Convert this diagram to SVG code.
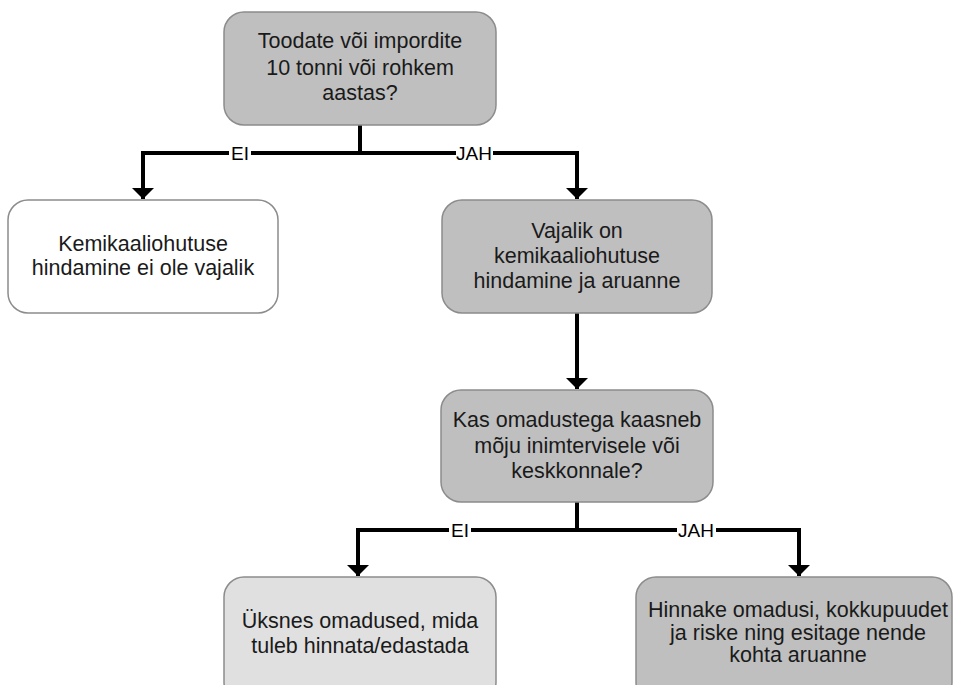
<svg xmlns="http://www.w3.org/2000/svg" width="954" height="685" viewBox="0 0 954 685">
  <defs>
    <marker id="arrow" viewBox="0 0 10 20" refX="10" refY="10" markerWidth="2.75" markerHeight="5.5" markerUnits="strokeWidth" orient="auto">
      <path d="M0,0 L10,10 L0,20 Z" fill="#000"/>
    </marker>
  </defs>
  <style>
    .box { stroke: #8c8c8c; stroke-width: 1.5; }
    .dark { fill: #bfbfbf; }
    .white { fill: #ffffff; }
    .light { fill: #e0e0e0; }
    .txt { font-family: "Liberation Sans", Arial, sans-serif; font-size: 21.5px; fill: #1a1a1a; text-anchor: middle; }
    .lbl { font-family: "Liberation Sans", Arial, sans-serif; font-size: 19px; fill: #000; text-anchor: middle; }
    .edge { fill: none; stroke: #000; stroke-width: 4; }
  </style>
  <rect width="954" height="685" fill="#ffffff"/>

  <g id="connectors">
    <path class="edge" d="M360,125 V153"/>
    <path class="edge" d="M360,153 H143 V199" marker-end="url(#arrow)"/>
    <path class="edge" d="M360,153 H577 V199" marker-end="url(#arrow)"/>
    <path class="edge" d="M577,313 V389" marker-end="url(#arrow)"/>
    <path class="edge" d="M577,502 V530"/>
    <path class="edge" d="M577,530 H358 V576" marker-end="url(#arrow)"/>
    <path class="edge" d="M577,530 H799 V576" marker-end="url(#arrow)"/>
    <rect x="229" y="143" width="22" height="20" fill="#fff"/>
    <text class="lbl" x="240" y="160">EI</text>
    <rect x="456" y="143" width="37" height="20" fill="#fff"/>
    <text class="lbl" x="474" y="160">JAH</text>
    <rect x="449" y="520" width="22" height="20" fill="#fff"/>
    <text class="lbl" x="460" y="537">EI</text>
    <rect x="677" y="520" width="39" height="20" fill="#fff"/>
    <text class="lbl" x="696" y="537">JAH</text>
  </g>

  <g id="q1">
    <rect class="box dark" x="224" y="12" width="272" height="113" rx="20"/>
    <text class="txt" x="360" y="48">Toodate või impordite</text>
    <text class="txt" x="360" y="75">10 tonni või rohkem</text>
    <text class="txt" x="360" y="100">aastas?</text>
  </g>

  <g id="no-assessment">
    <rect class="box white" x="8" y="200" width="270" height="113" rx="20"/>
    <text class="txt" x="143" y="251">Kemikaaliohutuse</text>
    <text class="txt" x="143" y="275">hindamine ei ole vajalik</text>
  </g>

  <g id="assessment-needed">
    <rect class="box dark" x="442" y="200" width="270" height="113" rx="20"/>
    <text class="txt" x="577" y="238">Vajalik on</text>
    <text class="txt" x="577" y="263">kemikaaliohutuse</text>
    <text class="txt" x="577" y="288">hindamine ja aruanne</text>
  </g>

  <g id="q2">
    <rect class="box dark" x="441" y="390" width="272" height="112" rx="20"/>
    <text class="txt" x="577" y="427">Kas omadustega kaasneb</text>
    <text class="txt" x="577" y="453">mõju inimtervisele või</text>
    <text class="txt" x="577" y="478">keskkonnale?</text>
  </g>

  <g id="properties-only">
    <rect class="box light" x="224" y="577" width="272" height="125" rx="20"/>
    <text class="txt" x="360" y="628">Üksnes omadused, mida</text>
    <text class="txt" x="360" y="653">tuleb hinnata/edastada</text>
  </g>

  <g id="full-report">
    <rect class="box dark" x="636" y="577" width="316" height="125" rx="20"/>
    <text class="txt" x="798" y="617">Hinnake omadusi, kokkupuudet</text>
    <text class="txt" x="798" y="640">ja riske ning esitage nende</text>
    <text class="txt" x="798" y="662">kohta aruanne</text>
  </g>
</svg>
